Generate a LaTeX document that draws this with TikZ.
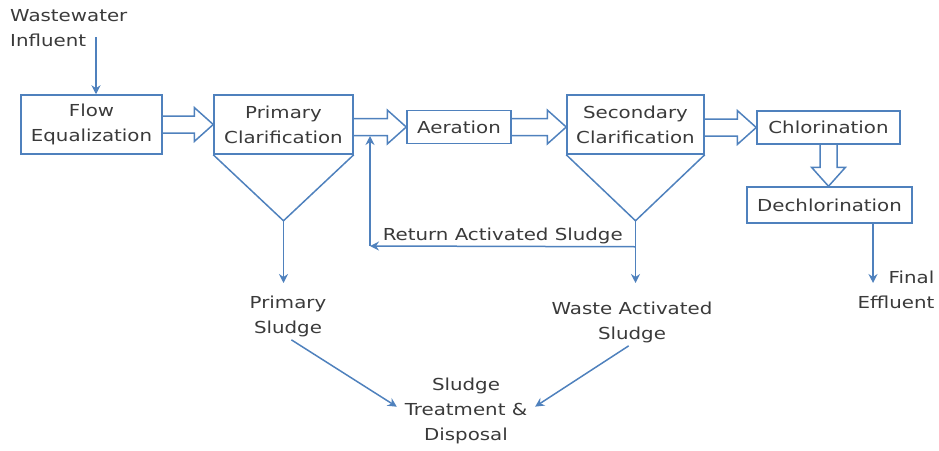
\documentclass[tikz,border=0pt]{standalone}
\usepackage{fontspec}
\setmainfont{DejaVu Sans}[FakeStretch=1.2]
\usepackage{tikz}
\usetikzlibrary{arrows.meta,calc}
\definecolor{boxblue}{RGB}{79,129,189}
\definecolor{txtgray}{RGB}{58,58,58}
\tikzset{every node/.append style={font=\fontsize{16.5}{25}\selectfont, text=txtgray}}
\tikzset{unit/.style={draw=boxblue, line width=1.5pt, align=center, inner sep=0pt},
         lbl/.style={align=center, inner sep=1pt},
         flowline/.style={draw=boxblue, line width=1.5pt, -{Stealth[length=9pt,width=9pt,inset=3pt]}},
         hollow/.style={draw=boxblue, line width=1.5pt, line join=miter}}
% open block arrow between two points
\newcommand{\fatarrow}[2]{%
  \coordinate (fa-s) at (#1); \coordinate (fa-e) at (#2);
  \coordinate (fa-b) at ($(fa-e)!19pt!(fa-s)$);
  \draw[hollow] ($(fa-s)!8.5pt!90:(fa-e)$) -- ($(fa-b)!8.5pt!-90:(fa-s)$)
     -- ($(fa-b)!17pt!-90:(fa-s)$) -- (fa-e) -- ($(fa-b)!17pt!90:(fa-s)$)
     -- ($(fa-b)!8.5pt!90:(fa-s)$) -- ($(fa-s)!8.5pt!-90:(fa-e)$);
}
\begin{document}
\begin{tikzpicture}[x=1pt, y=-1pt]
            \useasboundingbox (0,0) rectangle (939,450);
            % treatment units
            \node[unit, minimum width=141pt, minimum height=59pt] (flow) at (91.5,124.5) {Flow\\Equalization};
            \node[unit, minimum width=139pt, minimum height=59pt] (prim) at (283.5,124.5) {Primary\\Clarification};
            \node[unit, minimum width=104pt, minimum height=33pt] (aer) at (459,127) {Aeration};
            \node[unit, minimum width=137pt, minimum height=59pt] (sec) at (635.5,124.5) {Secondary\\Clarification};
            \node[unit, minimum width=143pt, minimum height=33pt] (chl) at (828.5,127.5) {Chlorination};
            \node[unit, minimum width=165pt, minimum height=36pt] (dechl) at (829.5,205) {Dechlorination};
            % free labels
            \node[lbl, align=left, anchor=north west, inner sep=0pt] (infl) at (10,9) {Wastewater\\Influent};
            \node[lbl] (psl) at (288,316) {Primary\\Sludge};
            \node[lbl] (was) at (632,322) {Waste Activated\\Sludge};
            \node[lbl] (std) at (466,411) {Sludge\\Treatment \&\\Disposal};
            \node[lbl, align=right] (fe) at (896,290) {Final\\Effluent};
            % hoppers under the clarifiers
            \coordinate (prim-apex) at ($(prim.south)+(0,66)$);
            \coordinate (sec-apex) at ($(sec.south)+(0,66)$);
            \draw[hollow] (prim.south west) -- (prim-apex) -- (prim.south east);
            \draw[hollow] (sec.south west) -- (sec-apex) -- (sec.south east);
            % main flow
            \fatarrow{flow.east}{prim.west}
            \fatarrow{aer.west -| prim.east}{aer.west}
            \fatarrow{aer.east}{aer.east -| sec.west}
            \fatarrow{chl.west -| sec.east}{chl.west}
            \fatarrow{chl.south}{chl.south |- dechl.north}
            % influent and effluent
            \coordinate (infl-a) at (96,37);
            \draw[flowline] (infl-a) -- (infl-a |- flow.north);
            \coordinate (fe-tip) at (873,283);
            \draw[flowline] (fe-tip |- dechl.south) -- (fe-tip);
            % sludge lines
            \coordinate (ras-r) at ($(sec-apex)+(0,26)$);
            \coordinate (ras-l) at (370,246);
            \coordinate (ras-tip) at (370,136);
            \draw[flowline] (prim-apex) -- (prim-apex |- 0,283);
            \draw[flowline] (sec-apex) -- (sec-apex |- 0,283);
            \draw[flowline] (ras-r) -- (ras-l) node[midway, above, inner sep=2pt] (ras) {Return Activated Sludge};
            \draw[flowline] (ras-l) -- (ras-tip);
            \draw[flowline, shorten <=4pt, shorten >=8pt] (psl.south) -- (std.west);
            \draw[flowline, shorten <=4pt, shorten >=8pt] (was.south) -- (std.east);
\end{tikzpicture}
\end{document}
